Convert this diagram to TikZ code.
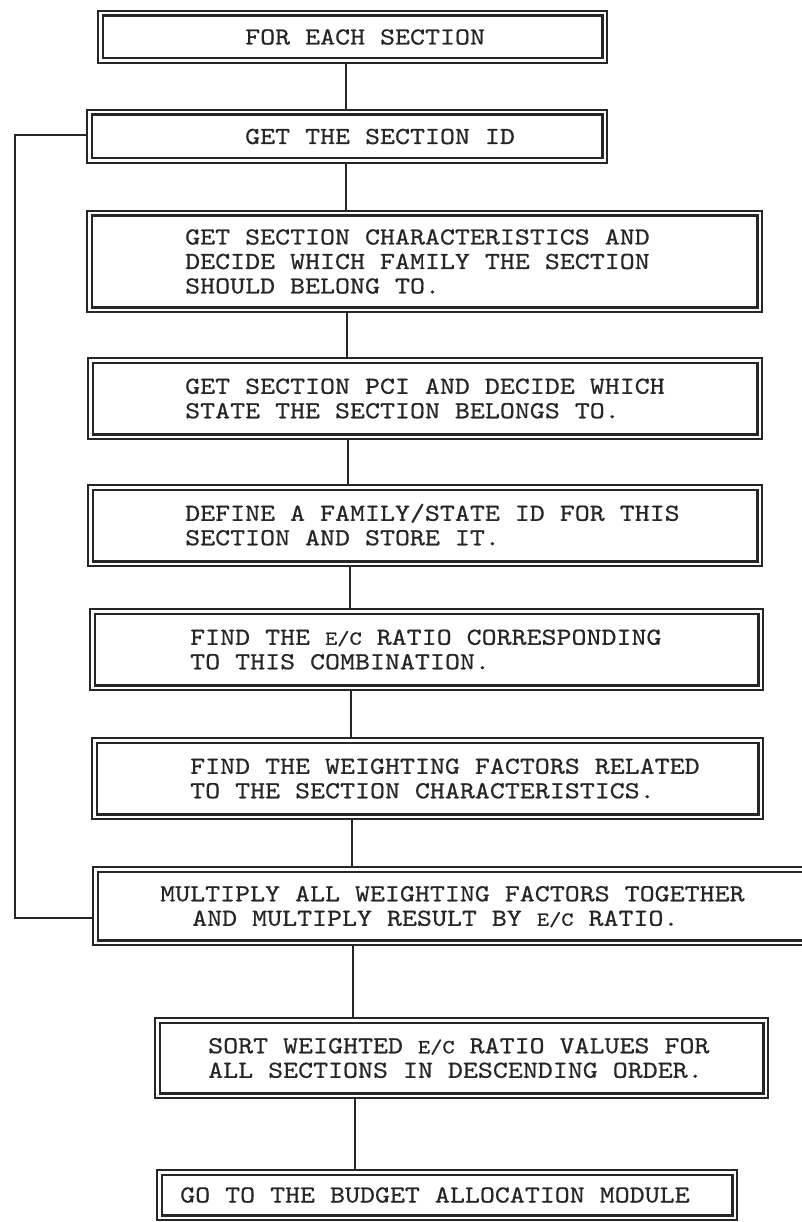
\documentclass[tikz,border=0pt]{standalone}
\usepackage{fontspec}
\newfontfamily\boxfont[Extension=.otf,FakeStretch=1.165,FakeBold=0.5]{lmmono10-regular}
\definecolor{ink}{HTML}{262626}
\newcommand\topstr{\rule{0pt}{22pt}}
\newcommand\botstr{\rule[-7pt]{0pt}{7pt}}
\newcommand\ecr{{\fontsize{20pt}{24.5pt}\selectfont E/C}}
\tikzset{
  box/.style={draw=ink, line width=1.4pt, inner sep=0pt,
    path picture={\draw[ink, line width=2.2pt]
      ([shift={(4.6pt,-4.6pt)}]path picture bounding box.north west) rectangle
      ([shift={(-4.6pt,4.6pt)}]path picture bounding box.south east);}},
  txt/.style={font={\boxfont\fontsize{24.5pt}{24.5pt}\selectfont}, text=ink,
    align=left, inner sep=0pt, anchor=west},
  link/.style={draw=ink, line width=1.5pt}
}
\begin{document}
\begin{tikzpicture}[x=1pt,y=-1pt]
\useasboundingbox[fill=white] (0,0) rectangle (801,1222);
% boxes
\node[box, minimum width=509pt, minimum height=52pt] (b1) at (352.5,37) {};
\node[box, minimum width=520pt, minimum height=53pt] (b2) at (347,136.5) {};
\node[box, minimum width=675pt, minimum height=101pt] (b3) at (424.5,261.5) {};
\node[box, minimum width=674pt, minimum height=81pt] (b4) at (425,398.5) {};
\node[box, minimum width=674pt, minimum height=81pt] (b5) at (425,525.5) {};
\node[box, minimum width=673pt, minimum height=81pt] (b6) at (426.5,649.5) {};
\node[box, minimum width=671pt, minimum height=81pt] (b7) at (427.5,778.5) {};
\node[box, minimum width=722pt, minimum height=78pt] (b8) at (454,906) {};
\node[box, minimum width=613pt, minimum height=80pt] (b9) at (461.5,1058) {};
\node[box, minimum width=580pt, minimum height=50pt] (b10) at (447,1195) {};
% texts
\node[txt] (t1) at (245,37) {\topstr FOR EACH SECTION\botstr};
\node[txt] (t2) at (245,136.5) {\topstr GET THE SECTION ID\botstr};
\node[txt] (t3) at (185,261.5) {\topstr GET SECTION CHARACTERISTICS AND\\DECIDE WHICH FAMILY THE SECTION\\SHOULD BELONG TO.\botstr};
\node[txt] (t4) at (185,398.5) {\topstr GET SECTION PCI AND DECIDE WHICH\\STATE THE SECTION BELONGS TO.\botstr};
\node[txt] (t5) at (185,525.5) {\topstr DEFINE A FAMILY/STATE ID FOR THIS\\SECTION AND STORE IT.\botstr};
\node[txt] (t6) at (190,649.5) {\topstr FIND THE \ecr{} RATIO CORRESPONDING\\TO THIS COMBINATION.\botstr};
\node[txt] (t7) at (190,778.5) {\topstr FIND THE WEIGHTING FACTORS RELATED\\TO THE SECTION CHARACTERISTICS.\botstr};
\node[txt] (t8) at (160,906) {\topstr MULTIPLY ALL WEIGHTING FACTORS TOGETHER\\\hspace*{32pt}AND MULTIPLY RESULT BY \ecr{} RATIO.\botstr};
\node[txt] (t9) at (208,1058) {\topstr SORT WEIGHTED \ecr{} RATIO VALUES FOR\\ALL SECTIONS IN DESCENDING ORDER.\botstr};
\node[txt] (t10) at (180,1195) {\topstr GO TO THE BUDGET ALLOCATION MODULE\botstr};
% connector columns
\coordinate (k1) at (346,0);
\coordinate (k2) at (346,0);
\coordinate (k3) at (347,0);
\coordinate (k4) at (348,0);
\coordinate (k5) at (350,0);
\coordinate (k6) at (351,0);
\coordinate (k7) at (352,0);
\coordinate (k8) at (353,0);
\coordinate (k9) at (355,0);
\draw[link] (b1.south -| k1) -- (b2.north -| k1);
\draw[link] (b2.south -| k2) -- (b3.north -| k2);
\draw[link] (b3.south -| k3) -- (b4.north -| k3);
\draw[link] (b4.south -| k4) -- (b5.north -| k4);
\draw[link] (b5.south -| k5) -- (b6.north -| k5);
\draw[link] (b6.south -| k6) -- (b7.north -| k6);
\draw[link] (b7.south -| k7) -- (b8.north -| k7);
\draw[link] (b8.south -| k8) -- (b9.north -| k8);
\draw[link] (b9.south -| k9) -- (b10.north -| k9);
% loop back
\coordinate (lp1) at (15,918);
\coordinate (lp2) at (15,135);
\draw[link] (b8.west |- lp1) -- (lp1) -- (lp2) -- (b2.west |- lp2);
\end{tikzpicture}
\end{document}
